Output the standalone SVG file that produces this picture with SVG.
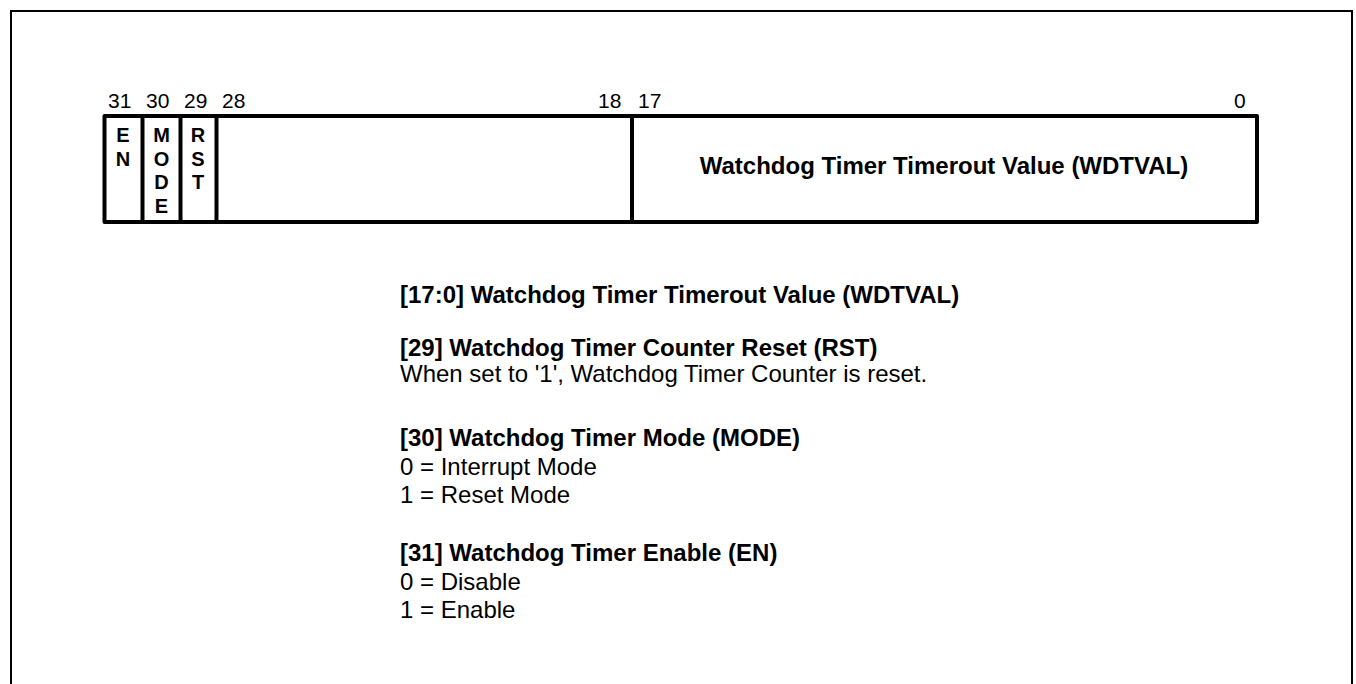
<svg xmlns="http://www.w3.org/2000/svg" width="1356" height="684" viewBox="0 0 1356 684">
<style>
.frame{fill:none;stroke:#000;stroke-width:2}
.reg{fill:#fff;stroke:#000;stroke-width:4;stroke-linejoin:round}
.div{stroke:#000;stroke-width:4}
.bit{font-family:"Liberation Sans",Arial,sans-serif;font-size:21px;fill:#000}
.fld{font-family:"Liberation Sans",Arial,sans-serif;font-size:20px;font-weight:bold;fill:#000;text-anchor:middle}
.big{font-family:"Liberation Sans",Arial,sans-serif;font-size:24px;font-weight:bold;fill:#000}
.txt{font-family:"Liberation Sans",Arial,sans-serif;font-size:24px;fill:#000}
</style>
<rect width="1356" height="684" fill="#fff"/>
<path class="frame" d="M11,684 V11 H1352 V684"/>
<g id="register">
<rect class="reg" x="104.5" y="116" width="1152.5" height="106"/>
<line class="div" x1="142.5" y1="116" x2="142.5" y2="222"/>
<line class="div" x1="180.5" y1="116" x2="180.5" y2="222"/>
<line class="div" x1="216.5" y1="116" x2="216.5" y2="222"/>
<line class="div" x1="632" y1="116" x2="632" y2="222"/>
</g>
<g id="bits">
<text class="bit" x="108" y="108">31</text>
<text class="bit" x="146" y="108">30</text>
<text class="bit" x="184" y="108">29</text>
<text class="bit" x="222" y="108">28</text>
<text class="bit" x="598" y="108">18</text>
<text class="bit" x="638" y="108">17</text>
<text class="bit" x="1234" y="108">0</text>
</g>
<g id="field-en">
<text class="fld" x="123" y="142">E</text>
<text class="fld" x="123" y="165.5">N</text>
</g>
<g id="field-mode">
<text class="fld" x="161.5" y="142">M</text>
<text class="fld" x="161.5" y="165.5">O</text>
<text class="fld" x="161.5" y="189">D</text>
<text class="fld" x="161.5" y="212.5">E</text>
</g>
<g id="field-rst">
<text class="fld" x="198" y="142">R</text>
<text class="fld" x="198" y="165.5">S</text>
<text class="fld" x="198" y="189">T</text>
</g>
<g id="field-wdtval">
<text class="big" x="944" y="174" text-anchor="middle">Watchdog Timer Timerout Value (WDTVAL)</text>
</g>
<g id="description">
<text class="big" x="400" y="303">[17:0] Watchdog Timer Timerout Value (WDTVAL)</text>
<text class="big" x="400" y="356">[29] Watchdog Timer Counter Reset (RST)</text>
<text class="txt" x="400" y="382">When set to '1', Watchdog Timer Counter is reset.</text>
<text class="big" x="400" y="446">[30] Watchdog Timer Mode (MODE)</text>
<text class="txt" x="400" y="475">0 = Interrupt Mode</text>
<text class="txt" x="400" y="503">1 = Reset Mode</text>
<text class="big" x="400" y="561">[31] Watchdog Timer Enable (EN)</text>
<text class="txt" x="400" y="590">0 = Disable</text>
<text class="txt" x="400" y="618">1 = Enable</text>
</g>
</svg>
